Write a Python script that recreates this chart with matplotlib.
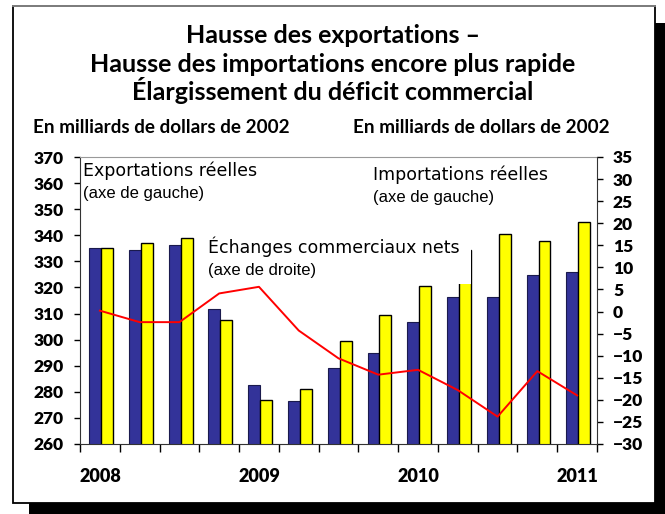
import matplotlib
matplotlib.use("Agg")
import matplotlib.pyplot as plt
from matplotlib.patches import Rectangle, FancyArrowPatch
from matplotlib.lines import Line2D

# quarterly data, 2008Q1 to 2011Q1
years = ["2008", "2009", "2010", "2011"]
exports = [335.1, 334.5, 336.4, 311.8, 282.8, 276.3, 289.3, 295.0, 306.7, 316.5, 316.5, 324.9, 326.1]
imports = [335.1, 337.0, 338.9, 307.4, 277.0, 280.9, 299.6, 309.4, 320.5, 334.3, 340.3, 337.9, 344.9]
net_trade = [0.2, -2.4, -2.4, 4.1, 5.6, -4.3, -10.6, -14.3, -13.2, -17.8, -23.8, -13.5, -19.0]

W, H = 665, 514
fig = plt.figure(figsize=(W / 100, H / 100), dpi=100)
fig.patch.set_facecolor("white")


def px(xp, yp):
    return (xp / W, 1 - yp / H)


# frame with drop shadow
fig.patches.append(Rectangle(px(29, 530), 660 / W, 507 / H,
                             transform=fig.transFigure, facecolor="black",
                             edgecolor="none", zorder=0))
fig.patches.append(Rectangle(px(13, 503), 642 / W, 497 / H,
                             transform=fig.transFigure, facecolor="white",
                             edgecolor="black", linewidth=1.3, zorder=1))
fig.add_artist(Line2D([13 / W, 655 / W], [1 - 6 / H, 1 - 6 / H],
                      transform=fig.transFigure, color="#888888", linewidth=1.3))

ax = fig.add_axes([80 / W, 1 - 444 / H, 517 / W, 287 / H])
ax.set_zorder(3)
ax.patch.set_visible(False)

n = len(exports)
x = list(range(n))
bw = 0.3
ax.bar([i - 0.12 for i in x], exports, width=bw, color="#333399",
       edgecolor="#1a1a4d", linewidth=0.8, zorder=2)
ax.bar([i + 0.18 for i in x], imports, width=bw, color="#ffff00",
       edgecolor="black", linewidth=1.0, zorder=2)

ax.set_xlim(-0.5, n - 0.5)
ax.set_ylim(260, 370)
ax.set_yticks(range(260, 371, 10))
ax.set_xticks([i - 0.5 for i in range(n + 1)])
ax.set_xticklabels([])
ax.set_xticks([0, 4, 8, 12], minor=True)
ax.set_xticklabels(years, minor=True)
ax.tick_params(axis="x", which="major", direction="out", length=6, width=1)
ax.tick_params(axis="x", which="minor", length=0, pad=17)
ax.tick_params(axis="y", direction="out", length=4.5, width=1, pad=7)

for lab in ax.get_yticklabels():
    lab.set_fontfamily("Lato")
    lab.set_fontweight("heavy")
    lab.set_fontsize(12.5)
for lab in ax.get_xticklabels(minor=True):
    lab.set_fontfamily("Lato")
    lab.set_fontweight("heavy")
    lab.set_fontsize(13)

ax.spines["top"].set_color("#999999")
ax.spines["left"].set_color("#333333")
ax.spines["bottom"].set_color("#333333")
ax.spines["right"].set_visible(False)

ax2 = ax.twinx()
ax2.plot(x, net_trade, color="#ff0000", linewidth=1.4, zorder=5)
ax2.set_ylim(-30, 35)
ax2.set_yticks(range(-30, 36, 5))
ax2.tick_params(axis="y", direction="out", length=4.5, width=1, pad=7)
for lab in ax2.get_yticklabels():
    lab.set_fontfamily("Lato")
    lab.set_fontweight("heavy")
    lab.set_fontsize(12.5)
for s in ["top", "left", "bottom"]:
    ax2.spines[s].set_visible(False)
ax2.spines["right"].set_color("#333333")

# white label box that hides the top of one import bar
ax.add_patch(Rectangle((2.72, 321.3), 9.325 - 2.72, 20,
                       facecolor="white", edgecolor="none", zorder=4))

lab_font = ["DejaVu Sans"]
small_font = ["Liberation Sans", "DejaVu Sans"]

fig.text(*px(83, 176), "Exportations réelles", fontsize=12.5, family=lab_font, zorder=10)
fig.text(*px(83, 198), "(axe de gauche)", fontsize=12, family=small_font, zorder=10)
fig.text(*px(208, 253), "Échanges commerciaux nets", fontsize=12.5, family=lab_font, zorder=10)
fig.text(*px(208, 275), "(axe de droite)", fontsize=12, family=small_font, zorder=10)
fig.text(*px(373, 180), "Importations réelles", fontsize=12.5, family=lab_font, zorder=10)
fig.text(*px(373, 202), "(axe de gauche)", fontsize=12, family=small_font, zorder=10)

arrow = dict(arrowstyle="-|>", color="black", linewidth=1.6, mutation_scale=10)
fig.add_artist(FancyArrowPatch(px(158, 194), px(130, 246),
                               transform=fig.transFigure, **arrow))
fig.add_artist(FancyArrowPatch(px(300, 285), px(293, 318),
                               transform=fig.transFigure, **arrow))
fig.add_artist(FancyArrowPatch(px(480, 197), px(503, 232),
                               transform=fig.transFigure, arrowstyle="-|>",
                               color="black", linewidth=2.4, mutation_scale=10))

title = ["Hausse des exportations –",
         "Hausse des importations encore plus rapide",
         "Élargissement du déficit commercial"]
for yb, line in zip([43, 72, 100], title):
    fig.text(333 / W, 1 - yb / H, line, ha="center", va="baseline",
             fontsize=18, fontweight="bold", family="Lato")

fig.text(*px(33, 133), "En milliards de dollars de 2002", fontsize=13.6,
         fontweight="bold", family="Lato", va="baseline")
fig.text(*px(353, 133), "En milliards de dollars de 2002", fontsize=13.6,
         fontweight="bold", family="Lato", va="baseline")

fig.savefig("out.png", dpi=100)
